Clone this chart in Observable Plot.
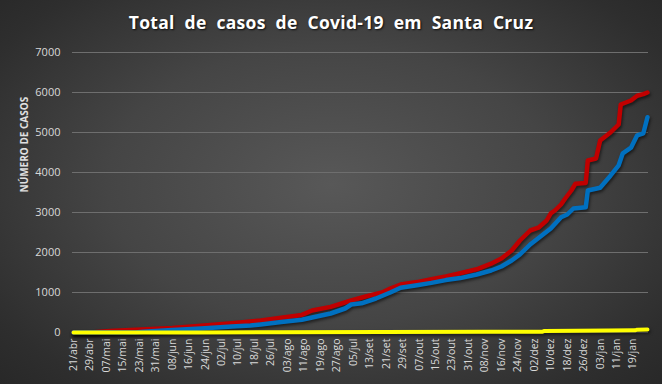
<!DOCTYPE html>
<html>
<head>
<meta charset="utf-8">
<script src="https://cdn.jsdelivr.net/npm/d3@7"></script>
<script src="https://cdn.jsdelivr.net/npm/@observablehq/plot@0.6"></script>
<style>
  html, body { margin: 0; padding: 0; background: #2a2a2a; }
  #wrap {
    width: 662px; height: 384px; overflow: hidden; position: relative;
    background: radial-gradient(ellipse 75% 80% at 50% 48%, #585858 0%, #454545 45%, #2e2e2e 80%, #252525 100%);
    font-family: "Open Sans", sans-serif;
  }
  #title {
    height: 40px; line-height: 44px; text-align: center; color: #ffffff;
    font-family: "Open Sans", sans-serif; font-weight: bold; font-size: 17.5px;
    word-spacing: 5px; letter-spacing: 0.3px;
    text-shadow: 1px 1px 2px rgba(0,0,0,0.8);
  }
  #chart svg { display: block; }
  #chart svg g[aria-label="line"] { filter: drop-shadow(1px 2px 1.5px rgba(0,0,0,0.55)); }
</style>
</head>
<body>
<div id="wrap">
  <div id="title">Total de casos de Covid-19 em Santa Cruz</div>
  <div id="chart"></div>
</div>
<script>
// x tick labels (every 8 days starting 21/abr), as printed on the original chart
const tickLabels = ["21/abr","29/abr","07/mai","15/mai","23/mai","31/mai","08/jun","16/jun","24/jun","02/jul","10/jul","18/jul","26/jul","03/ago","11/ago","19/ago","27/ago","05/jul","13/set","21/set","29/set","07/out","15/out","23/out","31/out","08/nov","16/nov","24/nov","02/dez","10/dez","18/dez","26/dez","03/jan","11/jan","19/jan"];
const tickDays = tickLabels.map((_, i) => i * 8);
const lastDay = 279;

// Total de casos (red) — day offset from 21/abr and value
const casosDays = [0,10,16,20,33,48,62,77,86,91,101,111,116,125,135,142,150,154,159,167,174,181,188,196,203,208,213,217,222,226,230,232,234,237,239,242,244,249,250,254,256,261,265,266,271,274,277,279];
const casosVals = [0,5,30,45,75,110,170,230,275,300,370,440,550,640,800,900,1000,1100,1200,1260,1330,1400,1480,1580,1720,1850,2050,2300,2550,2620,2800,2980,3050,3200,3350,3550,3720,3740,4300,4350,4800,5000,5200,5700,5800,5920,5960,6000];

// Recuperados (blue)
const recDays = [0,30,34,48,62,77,86,91,101,111,116,125,132,135,140,147,154,159,167,174,181,188,196,203,208,213,217,222,227,232,237,240,243,249,250,256,261,265,267,271,274,277,279];
const recVals = [0,0,20,60,100,150,175,200,260,320,375,475,600,700,730,850,1000,1120,1180,1240,1310,1360,1450,1550,1650,1800,1950,2200,2400,2600,2880,2950,3100,3130,3550,3620,3920,4180,4480,4620,4930,4980,5380];

// Óbitos (yellow)
const obDays = [0,30,60,100,150,200,228,229,260,273,274,279];
const obVals = [0,1,3,6,12,18,20,40,48,55,70,75];

const yTicks = [0,1000,2000,3000,4000,5000,6000,7000];

const toRows = (days, vals) => days.map((d, i) => ({day: d, v: vals[i]}));
const casos = toRows(casosDays, casosVals);
const rec = toRows(recDays, recVals);
const ob = toRows(obDays, obVals);

const chart = Plot.plot({
  width: 662,
  height: 344,
  marginTop: 12,
  marginBottom: 52,
  marginLeft: 72,
  marginRight: 14,
  style: {background: "transparent", color: "#d9d9d9", fontFamily: "'Open Sans', sans-serif", fontSize: "11px"},
  x: {domain: [-0.5, lastDay + 0.5], axis: null},
  y: {domain: [0, 7000], axis: null},
  marks: [
    Plot.gridY(yTicks, {stroke: "#6e6e6e", strokeOpacity: 1, strokeWidth: 1}),
    Plot.axisY(yTicks, {tickSize: 0, tickPadding: 12, label: null, fill: "#d9d9d9", fontSize: 11, tickFormat: d => String(d)}),
    Plot.axisX(tickDays, {tickSize: 0, tickPadding: 6, tickRotate: -90, label: null, fill: "#d9d9d9", fontSize: 10.5,
      tickFormat: d => tickLabels[tickDays.indexOf(d)]}),
    Plot.text(["NÚMERO DE CASOS"], {frameAnchor: "left", dx: -48, rotate: -90, fill: "#e0e0e0", fontWeight: "bold", fontSize: 10, fontFamily: "'Open Sans', sans-serif"}),
    Plot.line(casos, {x: "day", y: "v", stroke: "#c00000", strokeWidth: 4.5, strokeLinejoin: "round"}),
    Plot.line(rec, {x: "day", y: "v", stroke: "#0070c0", strokeWidth: 4.5, strokeLinejoin: "round"}),
    Plot.line(ob, {x: "day", y: "v", stroke: "#ffff00", strokeWidth: 4, strokeLinejoin: "round"})
  ]
});
document.getElementById("chart").appendChild(chart);
</script>
</body>
</html>
